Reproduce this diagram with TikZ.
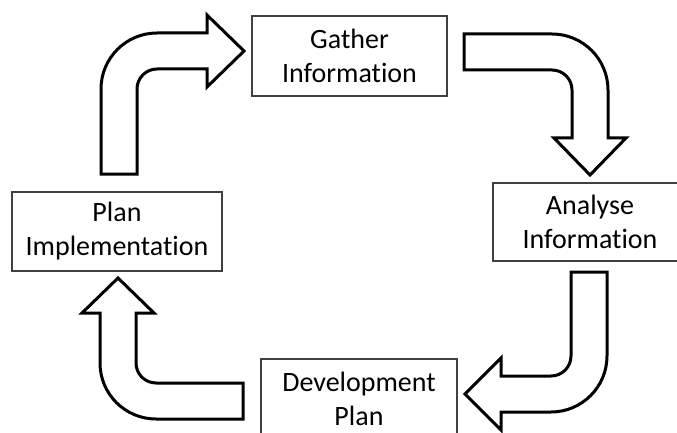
\documentclass[tikz,border=0pt]{standalone}
\usepackage{fontspec}
\setmainfont{Carlito}[Ligatures=NoCommon]
\begin{document}
\begin{tikzpicture}[x=1pt,y=-1pt,
  stagebox/.style={draw=black!75,line width=1.4pt,fill=white,align=center,
    inner sep=0pt,font=\fontsize{28}{34}\selectfont},
  blockarrow/.style={draw=black,line width=3pt,fill=white,line join=miter}]
\useasboundingbox (0,0) rectangle (677,433);
\clip (0,0) rectangle (677,433);

% stages of the cycle
\node[stagebox,minimum width=195pt,minimum height=80pt] (gather) at (349.5,56) {Gather\\Information};
\node[stagebox,minimum width=194pt,minimum height=78pt] (analyse) at (590,222) {Analyse\\Information};
\node[stagebox,minimum width=196pt,minimum height=80pt] (develop) at (359,399) {Development\\Plan};
\node[stagebox,minimum width=210pt,minimum height=79pt] (plan) at (117,231.5) {Plan\\Implementation};

% bent block arrows between the stages
\draw[blockarrow] (101,174) [rounded corners=56pt] -- (101,33) [sharp corners] -- (207,33) -- (207,15) -- (244,51)
  -- (207,87) -- (207,69) [rounded corners=20pt] -- (137,69) [sharp corners] -- (137,174) -- cycle;

\draw[blockarrow] (464,34) [rounded corners=56pt] -- (608,34) [sharp corners] -- (608,138) -- (626,138) -- (590,175)
  -- (554,138) -- (572,138) [rounded corners=20pt] -- (572,70) [sharp corners] -- (464,70) -- cycle;

\draw[blockarrow] (571,272) -- (607,272) [rounded corners=56pt] -- (607,412) [sharp corners] -- (501,412) -- (501,430)
  -- (465,394) -- (501,358) -- (501,376) [rounded corners=20pt] -- (571,376) [sharp corners] -- cycle;

\draw[blockarrow] (243,383) [rounded corners=20pt] -- (136,383) [sharp corners] -- (136,313) -- (154,313) -- (118,278)
  -- (82,313) -- (100,313) [rounded corners=56pt] -- (100,419) [sharp corners] -- (243,419) -- cycle;
\end{tikzpicture}
\end{document}
